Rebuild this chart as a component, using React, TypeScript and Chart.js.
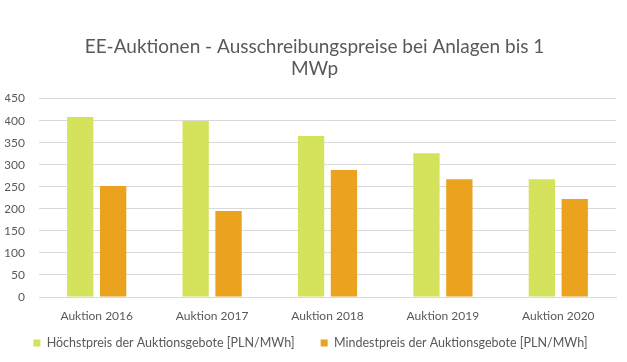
import React, { useEffect, useRef } from "react";
import { Chart, registerables } from "chart.js";

Chart.register(...registerables);

const categories = ["Auktion 2016", "Auktion 2017", "Auktion 2018", "Auktion 2019", "Auktion 2020"];
const maxPrices = [408, 399, 365, 326, 267];
const minPrices = [252, 195, 288, 267, 222];
const seriesNames = [
  "Höchstpreis der Auktionsgebote [PLN/MWh]",
  "Mindestpreis der Auktionsgebote [PLN/MWh]",
];
const titleLines = ["EE-Auktionen - Ausschreibungspreise bei Anlagen bis 1", "MWp"];

const FONT = "Lato, 'Liberation Sans', Arial, sans-serif";
const TEXT = "#595959";

const titleShift = {
  id: "titleShift",
  afterLayout(chart: any) {
    if (chart.titleBlock) chart.titleBlock.left += 8;
  },
};

export default function App() {
  const ref = useRef<HTMLCanvasElement | null>(null);
  useEffect(() => {
    document.body.style.margin = "0";
    const ctx = ref.current!;
    const chart = new Chart(ctx, {
      type: "bar",
      data: {
        labels: categories,
        datasets: [
          { label: seriesNames[0], data: maxPrices, backgroundColor: "#D4E35B" },
          { label: seriesNames[1], data: minPrices, backgroundColor: "#EAA21F" },
        ],
      },
      plugins: [titleShift],
      options: {
        animation: false,
        responsive: false,
        maintainAspectRatio: false,
        datasets: { bar: { categoryPercentage: 0.57, barPercentage: 0.8 } } as any,
        layout: { padding: { left: 5, right: 11, top: 0, bottom: 2.75 } },
        plugins: {
          title: {
            display: true,
            text: titleLines,
            color: TEXT,
            font: { family: FONT, size: 19, weight: "normal", lineHeight: 1.2 },
            padding: { top: 35, bottom: 18 },
          },
          legend: {
            position: "bottom",
            labels: {
              color: TEXT,
              font: { family: FONT, size: 12.5 },
              boxWidth: 7,
              boxHeight: 7,
              padding: 26,
            },
          },
          tooltip: { enabled: false },
        },
        scales: {
          x: {
            grid: { display: false, drawTicks: false },
            border: { display: true, color: "#D9D9D9" },
            ticks: { color: TEXT, font: { family: FONT, size: 12 }, padding: 12, maxRotation: 0 },
            afterFit: (scale: any) => {
              scale.height = 13.75;
              scale._computeLabelArea = () => undefined;
            },
          },
          y: {
            min: 0,
            max: 450,
            ticks: { stepSize: 50, color: TEXT, font: { family: FONT, size: 12 }, padding: 14 },
            grid: { color: "#D9D9D9", drawTicks: false },
            border: { display: false },
            afterFit: (scale: any) => {
              scale.width = 34;
            },
          },
        },
      },
    });
    return () => chart.destroy();
  }, []);
  return (
    <div style={{ position: "absolute", left: 0, top: 0, width: 627, height: 362, background: "#fff" }}>
      <canvas ref={ref} width={627} height={362} style={{ width: 627, height: 362 }} />
    </div>
  );
}
